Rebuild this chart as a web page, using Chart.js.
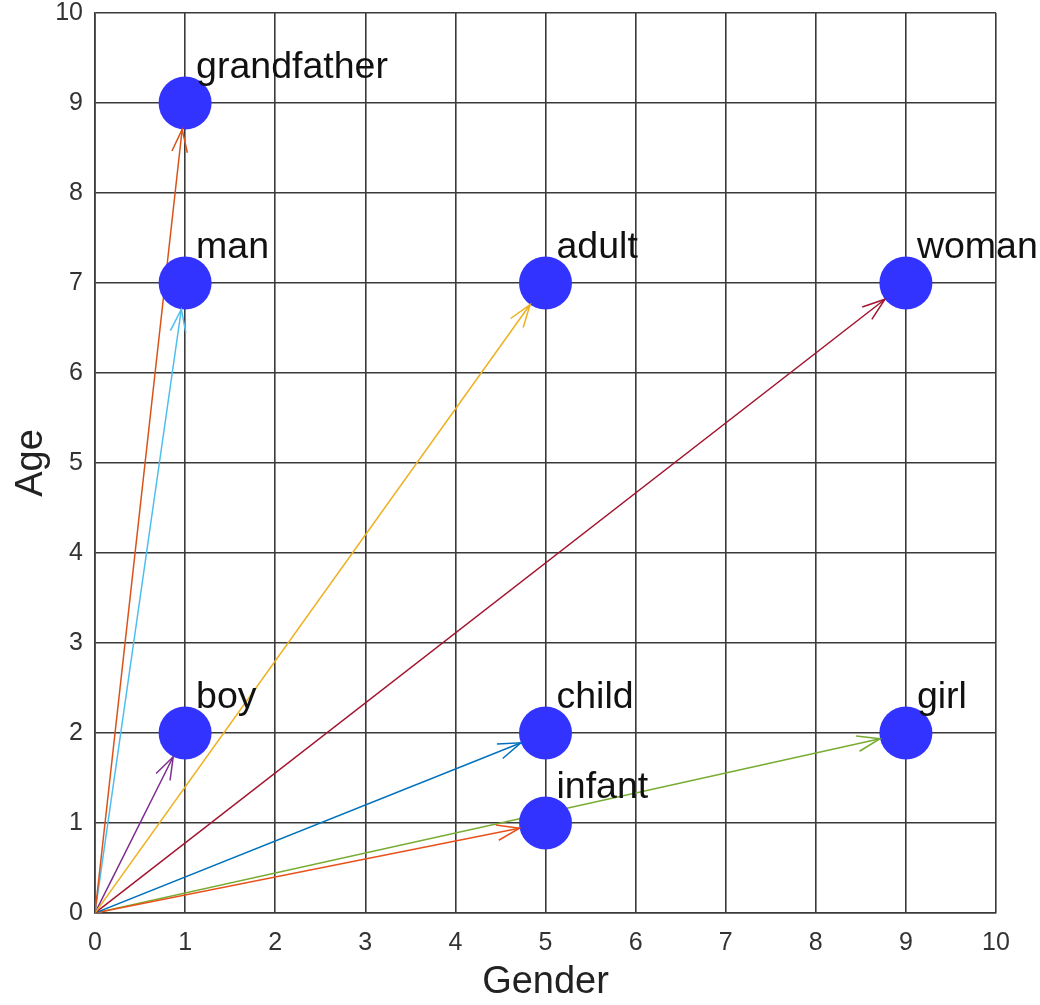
<!DOCTYPE html>
<html>
<head>
<meta charset="utf-8">
<script src="https://cdn.jsdelivr.net/npm/chart.js@4"></script>
<style>
  html, body { margin: 0; padding: 0; background: #ffffff; }
  #wrap { width: 1040px; height: 1005px; }
</style>
</head>
<body>
<div id="wrap"><canvas id="c" width="1040" height="1005"></canvas></div>
<script>
const wordLabels = ['grandfather', 'man', 'adult', 'woman', 'boy', 'child', 'infant', 'girl'];
const genderValues = [1, 1, 5, 9, 1, 5, 5, 9];
const ageValues = [9, 7, 7, 7, 2, 2, 1, 2];
const arrowColors = ['#D95319', '#4DBEEE', '#EDB120', '#A2142F', '#7E2F8E', '#0072BD', '#E8501A', '#77AC30'];
const axisTicks = [0, 1, 2, 3, 4, 5, 6, 7, 8, 9, 10];
const origin = { x: 0, y: 0 };

const POINT_R = 26.5;
const FONT = '"Liberation Sans", Arial, Helvetica, sans-serif';

const pointData = genderValues.map((g, i) => ({ x: g, y: ageValues[i] }));

const arrowDatasets = wordLabels.map((w, i) => ({
  label: w + ' vector',
  data: [{ x: origin.x, y: origin.y }, { x: genderValues[i], y: ageValues[i] }],
  showLine: true,
  borderColor: arrowColors[i],
  backgroundColor: arrowColors[i],
  borderWidth: 1.5,
  pointRadius: 0,
  pointHoverRadius: 0,
  order: 1
}));

const arrowHeads = {
  id: 'arrowHeads',
  afterDatasetsDraw(chart) {
    const ctx = chart.ctx;
    const xs = chart.scales.x, ys = chart.scales.y;
    const ox = xs.getPixelForValue(origin.x), oy = ys.getPixelForValue(origin.y);
    ctx.save();
    wordLabels.forEach((w, i) => {
      const px = xs.getPixelForValue(genderValues[i]);
      const py = ys.getPixelForValue(ageValues[i]);
      const ang = Math.atan2(py - oy, px - ox);
      const tx = px - Math.cos(ang) * POINT_R;
      const ty = py - Math.sin(ang) * POINT_R;
      const len = 24, spread = 0.33;
      ctx.strokeStyle = arrowColors[i];
      ctx.lineWidth = 1.5;
      ctx.beginPath();
      ctx.moveTo(tx - len * Math.cos(ang - spread), ty - len * Math.sin(ang - spread));
      ctx.lineTo(tx, ty);
      ctx.lineTo(tx - len * Math.cos(ang + spread), ty - len * Math.sin(ang + spread));
      ctx.stroke();
    });
    ctx.restore();
  }
};

const wordText = {
  id: 'wordText',
  afterDatasetsDraw(chart) {
    const ctx = chart.ctx;
    const xs = chart.scales.x, ys = chart.scales.y;
    ctx.save();
    ctx.fillStyle = '#111111';
    ctx.font = '37.5px ' + FONT;
    ctx.textAlign = 'left';
    ctx.textBaseline = 'alphabetic';
    wordLabels.forEach((w, i) => {
      const px = xs.getPixelForValue(genderValues[i]);
      const py = ys.getPixelForValue(ageValues[i]);
      ctx.fillText(w, px + 11, py - 25);
    });
    ctx.restore();
  }
};

const gridColor = '#3a3a3a';

new Chart(document.getElementById('c'), {
  type: 'scatter',
  data: {
    datasets: [
      {
        label: 'words',
        data: pointData,
        pointRadius: POINT_R,
        pointHoverRadius: POINT_R,
        pointBackgroundColor: '#3333FF',
        pointBorderColor: '#3333FF',
        pointBorderWidth: 0,
        showLine: false,
        order: 0
      },
      ...arrowDatasets
    ]
  },
  options: {
    responsive: false,
    animation: false,
    events: [],
    layout: { autoPadding: false, padding: { top: 13, right: 44, left: 0, bottom: 0 } },
    plugins: {
      legend: { display: false },
      tooltip: { enabled: false }
    },
    scales: {
      x: {
        type: 'linear',
        min: 0, max: 10,
        afterBuildTicks(scale) { scale.ticks = axisTicks.map(v => ({ value: v })); },
        afterFit(scale) { scale.height = 92; scale.paddingLeft = 0; scale.paddingRight = 0; },
        ticks: { color: '#333333', font: { family: FONT, size: 25 }, padding: 15, maxRotation: 0 },
        grid: { color: gridColor, lineWidth: 1.6, drawTicks: false },
        border: { display: true, color: gridColor, width: 1.6 },
        title: { display: true, text: 'Gender', color: '#222222', font: { family: FONT, size: 38 }, padding: { top: 0, bottom: 0 } }
      },
      y: {
        type: 'linear',
        min: 0, max: 10,
        afterBuildTicks(scale) { scale.ticks = axisTicks.map(v => ({ value: v })); },
        afterFit(scale) { scale.width = 95; scale.paddingTop = 0; scale.paddingBottom = 0; },
        ticks: { color: '#333333', font: { family: FONT, size: 25 }, padding: 12 },
        grid: { color: gridColor, lineWidth: 1.6, drawTicks: false },
        border: { display: true, color: gridColor, width: 1.6 },
        title: { display: true, text: 'Age', color: '#222222', font: { family: FONT, size: 38 }, padding: { top: 9, bottom: 0 } }
      }
    }
  },
  plugins: [arrowHeads, wordText]
});
</script>
</body>
</html>
